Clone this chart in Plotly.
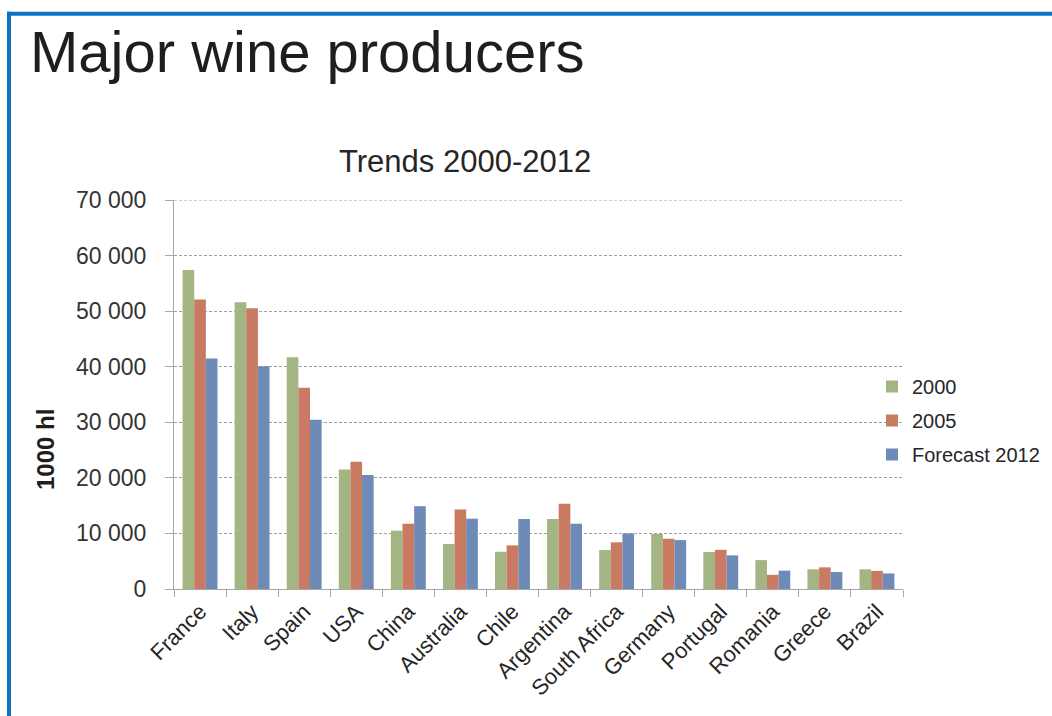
import plotly.graph_objects as go

# Wine production, thousand hectolitres
countries = ["France", "Italy", "Spain", "USA", "China", "Australia", "Chile",
             "Argentina", "South Africa", "Germany", "Portugal", "Romania",
             "Greece", "Brazil"]
prod_2000 = [57400, 51600, 41700, 21500, 10500, 8100, 6700,
             12600, 7000, 9900, 6650, 5200, 3550, 3550]
prod_2005 = [52100, 50500, 36200, 22900, 11750, 14300, 7850,
             15350, 8400, 9050, 7050, 2550, 3900, 3250]
forecast_2012 = [41500, 40100, 30450, 20500, 14900, 12650, 12600,
                 11750, 10000, 8800, 6050, 3300, 3050, 2800]

series_names = ["2000", "2005", "Forecast 2012"]
series_colors = ["#A3B582", "#C87A62", "#6E8AB6"]

y_max = 70000
y_tickvals = [0, 10000, 20000, 30000, 40000, 50000, 60000, 70000]
y_ticktext = ["0", "10 000", "20 000", "30 000", "40 000", "50 000",
              "60 000", "70 000"]

W, H = 1052, 716
PL, PR, PT, PB = 174, 903, 200, 589   # plot area in pixels


def fx(px):
    return (px - PL) / (PR - PL)


def fy(py):
    return (PB - py) / (PB - PT)


FONT = "Liberation Sans, Arial, sans-serif"
AXIS_GREY = "#A6A6A6"
GRID_GREY = "#A0A0A0"
GRID_DASH = "3px,2px"

fig = go.Figure()
for i, (name, vals, col) in enumerate(zip(series_names,
                                          [prod_2000, prod_2005, forecast_2012],
                                          series_colors)):
    fig.add_trace(go.Bar(name=name, x=countries, y=vals,
                         marker=dict(color=col, line=dict(width=0)),
                         legendgroup=f"g{i}"))

fig.update_layout(
    width=W, height=H,
    margin=dict(l=PL, r=W - PR, t=PT, b=H - PB, autoexpand=False),
    paper_bgcolor="white", plot_bgcolor="white",
    barmode="group", bargap=0.33, bargroupgap=0,
    font=dict(family=FONT, color="#262626"),
    showlegend=True,
    legend=dict(x=fx(872), xanchor="left", y=fy(367), yanchor="top",
                font=dict(size=20, color="#262626"),
                tracegroupgap=5, bgcolor="rgba(0,0,0,0)",
                itemsizing="constant"),
    xaxis=dict(showgrid=False, showline=True, linecolor=AXIS_GREY, linewidth=1,
               ticks="outside", tickson="boundaries", ticklen=7,
               tickcolor=AXIS_GREY, tickangle=-45,
               tickfont=dict(size=22, color="#262626")),
    yaxis=dict(range=[0, y_max], tickvals=y_tickvals, ticktext=y_ticktext,
               showgrid=True, gridcolor=GRID_GREY, griddash=GRID_DASH,
               gridwidth=1,
               zeroline=False, showline=True, linecolor=AXIS_GREY, linewidth=1,
               ticks="outside", ticklen=8, tickcolor=AXIS_GREY,
               ticklabelstandoff=14,
               tickfont=dict(size=23, color="#333333")),
)

# Gridline at the top of the value range (plotly skips grid at range ends)
fig.add_shape(type="line", xref="paper", yref="y", x0=0, x1=1,
              y0=y_max, y1=y_max, layer="below",
              line=dict(color=GRID_GREY, width=1, dash=GRID_DASH))

annotations = [
    dict(text="Major wine producers", x=fx(28), y=fy(51), xanchor="left",
         yanchor="middle", font=dict(size=58, color="#1E1E1E")),
    dict(text="Trends 2000-2012", x=fx(465), y=fy(162), xanchor="center",
         yanchor="middle", font=dict(size=31, color="#262626")),
    dict(text="<b>1000 hl</b>", x=fx(45), y=fy(450), xanchor="center",
         yanchor="middle", textangle=-90, font=dict(size=24, color="#1E1E1E")),
]
for a in annotations:
    a.update(xref="paper", yref="paper", showarrow=False)
fig.update_layout(annotations=annotations)

# Blue frame along the top and left edges
BLUE = "#0B72C4"
fig.add_shape(type="line", xref="paper", yref="paper",
              x0=fx(7), x1=fx(W + 5), y0=fy(13.7), y1=fy(13.7),
              line=dict(color=BLUE, width=4))
fig.add_shape(type="line", xref="paper", yref="paper",
              x0=fx(9), x1=fx(9), y0=fy(11.7), y1=fy(H + 5),
              line=dict(color=BLUE, width=4))

fig.write_html("out.html")
